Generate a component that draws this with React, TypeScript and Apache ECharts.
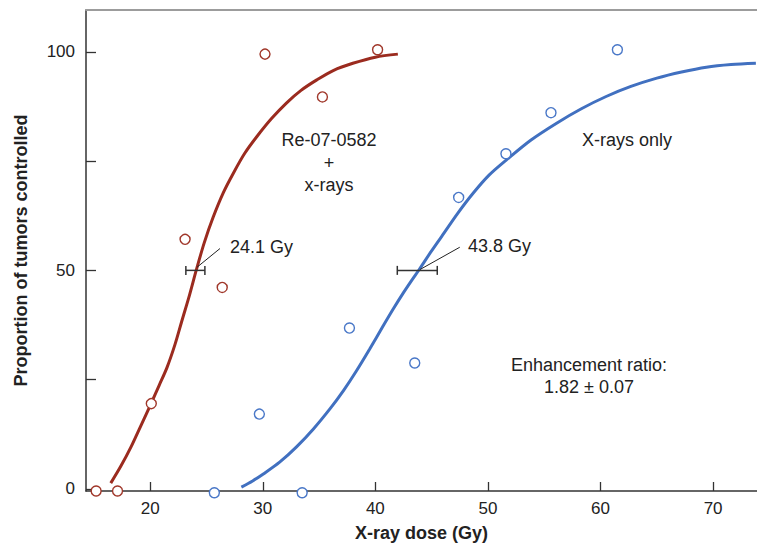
import React, { useEffect, useRef } from "react";
import * as echarts from "echarts";

// Observed data (x-ray dose in Gy, proportion of tumors controlled in %)
const reXraysPoints: [number, number][] = [
  [15.2, -0.5], [17.1, -0.5], [20.1, 19.5], [23.1, 57.1], [26.4, 46.1],
  [30.2, 99.5], [35.3, 89.7], [40.2, 100.5],
];
const xraysOnlyPoints: [number, number][] = [
  [25.7, -0.9], [29.7, 17.1], [33.5, -0.9], [37.7, 36.8], [43.5, 28.8],
  [47.4, 66.7], [51.6, 76.7], [55.6, 86.1], [61.5, 100.5],
];
// Fitted curves
const reXraysCurve: [number, number][] = [
  [16.5, 1.3], [17.4, 5.2], [18.3, 9.6], [19.2, 14.6], [20.06, 19.4], [20.8, 23.7],
  [21.5, 27.8], [22.2, 33.0], [22.8, 38.3], [23.5, 44.4], [24.1, 50.1], [24.8, 56.3],
  [25.6, 62.2], [26.5, 67.8], [27.4, 72.3], [28.4, 76.8], [29.5, 80.7], [30.8, 84.8],
  [32.1, 88.3], [33.4, 91.2], [34.8, 93.6], [36.3, 95.8], [38.0, 97.4], [40.0, 98.8],
  [42.0, 99.5],
];
const xraysOnlyCurve: [number, number][] = [
  [28.1, 0.4], [29.1, 1.8], [30.05, 3.4], [31.5, 6.1], [33.0, 9.6], [34.5, 13.7],
  [36.0, 18.4], [37.2, 22.6], [38.3, 26.9], [39.5, 32.0], [40.7, 37.3], [41.6, 41.2],
  [42.5, 44.9], [43.2, 47.6], [43.9, 50.2], [44.9, 54.1], [45.9, 57.8], [47.3, 63.0],
  [48.7, 67.7], [50.1, 71.8], [51.65, 75.3], [53.8, 79.8], [56.1, 83.7], [58.3, 87.0],
  [60.5, 89.8], [62.7, 92.1], [65.0, 94.0], [67.2, 95.4], [69.4, 96.5], [71.6, 97.1],
  [73.8, 97.4],
];
// TD50 error bars: [low, high, level]
const errorBars: [number, number, number][] = [
  [23.17, 24.86, 50],
  [41.95, 45.5, 50],
];
// Leader lines from TD50 to labels
const reLeader: [number, number][] = [[24.15, 50.7], [26.2, 55.0]];
const xrLeader: [number, number][] = [[43.97, 50.2], [47.5, 55.3]];

const xTicks = [20, 30, 40, 50, 60, 70];
const yTicks = [0, 25, 50, 75, 100];
const yLabels = [0, 50, 100];

const RED = "#9b2b1f";
const BLUE = "#4170c0";
const FONT = "Liberation Sans, Arial, sans-serif";
const TXT = "#222";

export default function App() {
  const ref = useRef<HTMLDivElement>(null);
  useEffect(() => {
    if (!ref.current) return;
    const chart = echarts.init(ref.current, undefined, { renderer: "svg" });
    const annText = (text: string, x: number, y: number, align: string) => ({
      type: "text",
      x,
      y,
      style: {
        text,
        fill: TXT,
        font: `18px ${FONT}`,
        align,
        verticalAlign: "middle",
      },
    });
    chart.setOption({
      animation: false,
      grid: { left: 86, right: 0, top: 10, bottom: 55 },
      xAxis: [
        {
          type: "value",
          min: 14.3,
          max: 73.9,
          name: "X-ray dose (Gy)",
          nameLocation: "middle",
          nameGap: 33,
          nameTextStyle: { fontFamily: FONT, fontSize: 18, fontWeight: "bold", color: TXT },
          axisLine: { show: true, onZero: false, lineStyle: { color: "#333", width: 1.5 } },
          axisTick: { show: true, inside: true, length: 9, customValues: xTicks, lineStyle: { color: "#333", width: 1.3 } },
          axisLabel: { customValues: xTicks, margin: 9, fontFamily: FONT, fontSize: 17, color: TXT },
          splitLine: { show: false },
        },
        {
          type: "value",
          position: "top",
          min: 14.3,
          max: 73.9,
          axisLine: { show: true, onZero: false, lineStyle: { color: "#9c9c9c", width: 2 } },
          axisTick: { show: false },
          axisLabel: { show: false },
          splitLine: { show: false },
        },
      ],
      yAxis: {
        type: "value",
        min: -0.5,
        max: 109.6,
        name: "Proportion of tumors controlled",
        nameLocation: "middle",
        nameGap: 56,
        nameTextStyle: { fontFamily: FONT, fontSize: 18, fontWeight: "bold", color: TXT },
        axisLine: { show: true, onZero: false, lineStyle: { color: "#333", width: 1.5 } },
        axisTick: { show: true, inside: true, length: 10, customValues: yTicks, lineStyle: { color: "#333", width: 1.3 } },
        axisLabel: { customValues: yLabels, margin: 11, fontFamily: FONT, fontSize: 17, color: TXT },
        splitLine: { show: false },
      },
      series: [
        {
          type: "line",
          data: reXraysCurve,
          smooth: 0.3,
          symbol: "none",
          lineStyle: { color: RED, width: 3 },
          z: 2,
        },
        {
          type: "line",
          data: xraysOnlyCurve,
          smooth: 0.3,
          symbol: "none",
          lineStyle: { color: BLUE, width: 3 },
          z: 2,
        },
        {
          type: "line",
          data: reLeader,
          symbol: "none",
          lineStyle: { color: "#222", width: 1 },
          z: 3,
        },
        {
          type: "line",
          data: xrLeader,
          symbol: "none",
          lineStyle: { color: "#222", width: 1 },
          z: 3,
        },
        {
          type: "custom",
          data: errorBars,
          z: 4,
          renderItem: (_p: any, api: any) => {
            const y = api.value(2);
            const a = api.coord([api.value(0), y]);
            const b = api.coord([api.value(1), y]);
            const st = { stroke: "#333", lineWidth: 1.5 };
            return {
              type: "group",
              children: [
                { type: "line", shape: { x1: a[0], y1: a[1], x2: b[0], y2: b[1] }, style: st },
                { type: "line", shape: { x1: a[0], y1: a[1] - 4.5, x2: a[0], y2: a[1] + 4.5 }, style: st },
                { type: "line", shape: { x1: b[0], y1: b[1] - 4.5, x2: b[0], y2: b[1] + 4.5 }, style: st },
              ],
            };
          },
        },
        {
          type: "scatter",
          data: reXraysPoints,
          symbol: "circle",
          symbolSize: 10,
          clip: false,
          itemStyle: { color: "#fff", borderColor: "#a0372a", borderWidth: 1.4, opacity: 1 },
          z: 5,
        },
        {
          type: "scatter",
          data: xraysOnlyPoints,
          symbol: "circle",
          symbolSize: 10,
          clip: false,
          itemStyle: { color: "#fff", borderColor: "#4a78c8", borderWidth: 1.4, opacity: 1 },
          z: 5,
        },
      ],
      graphic: [
        annText("24.1 Gy", 230, 247, "left"),
        annText("43.8 Gy", 468, 246, "left"),
        annText("Re-07-0582", 329, 140, "center"),
        annText("+", 329, 163, "center"),
        annText("x-rays", 329, 185, "center"),
        annText("X-rays only", 627, 140, "center"),
        annText("Enhancement ratio:", 589, 365, "center"),
        annText("1.82 ± 0.07", 589, 387, "center"),
      ],
    });
    return () => chart.dispose();
  }, []);
  return <div ref={ref} style={{ width: 757, height: 547, position: "absolute", left: 0, top: 0 }} />;
}
